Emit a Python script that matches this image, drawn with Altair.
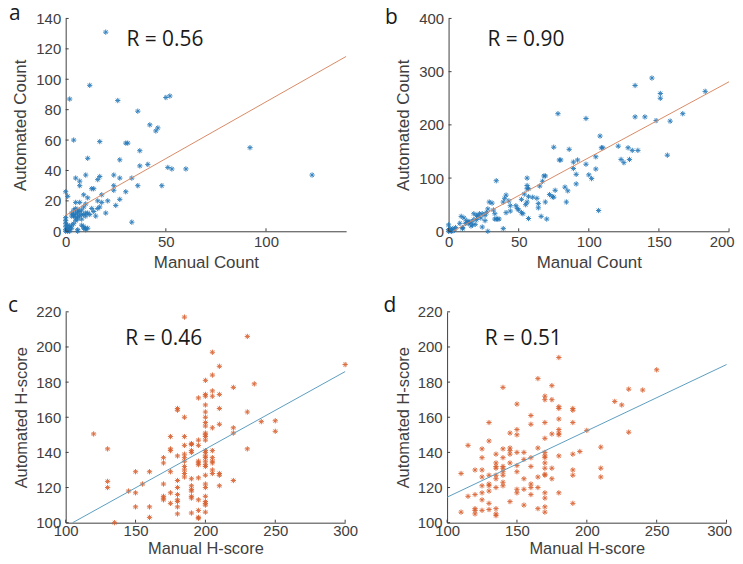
import altair as alt
import pandas as pd

# Panel a
ax = [20,12,2,26,50,52,36,42,46,45,4,17,30,31,37,11,27,92,123,41,37,51,53,60,48,36,33,27,24,10,17,16,5,7,7,24,24,14,13,30,0,1,9,11,18,27,21,16,18,5,7,10,25,16,17,20,13,14,15,33,10,11,9,8,7,6,5,4,3,3,4,5,6,7,8,6,5,4,8,6,5,9,10,12,0,0,0,0,1,1,2,2,3,3,4,1,0,0,2,6,8,9,9,10,11,10,6,1]
ay = [131,96,87,86,88,89,79,70,68,66,60,59,58,58,53,48,47,55,37,44,43,42,41,41,30,30,35,35,37,37,36,34,35,33,30,30,27,28,28,26,26,23,24,22,24,21,20,20,19,19,19,18,17,15,16,12,15,13,10,6,12,12,16,14,13,14,15,14,12,10,10,9,10,10,8,8,7,11,11,12,12,11,10,11,9,7,5,3,2,1,3,1,4,2,5,4,1,0,0,0,4,3,2,2,2,1,1,0]
a_line_x = [0,140]
a_line_y = [10.5,115]

# Panel b
bx = [145,133,151,151,183,78,98,133,140,167,148,158,108,156,75,86,109,110,121,128,131,135,129,123,125,79,80,89,92,98,105,89,91,105,100,102,91,107,34,56,68,69,67,65,56,57,56,83,85,84,76,72,74,75,69,66,70,57,60,57,63,64,64,54,52,55,56,41,40,39,43,44,41,44,48,49,50,52,53,29,31,32,33,33,34,35,36,28,27,24,22,21,18,23,24,26,28,39,20,16,14,17,19,13,11,9,10,10,8,5,3,2,1,0,0,1,0,3,2,4,15,16,12,18,20,26,14]
by = [288,274,259,250,263,221,212,215,215,221,208,207,179,143,158,154,157,157,160,157,152,152,135,135,129,134,134,130,134,126,140,118,107,117,106,99,89,39,95,100,104,104,94,85,86,80,80,83,76,55,77,69,65,64,55,28,23,24,64,65,62,52,44,70,60,50,55,68,62,55,57,48,35,38,48,43,40,35,33,55,53,40,33,23,23,23,23,42,35,33,33,28,33,25,8,20,0,5,22,18,15,12,13,20,25,28,7,5,15,7,5,3,1,0,12,5,3,1,0,2,17,10,15,22,30,30,17]
b_line_x = [3,200]
b_line_y = [0,281]

# Panel c
cx = [185,230,205,210,300,205,200,220,235,205,200,200,210,205,195,200,180,180,210,230,200,185,200,250,240,200,200,210,220,205,250,220,120,200,200,200,175,185,200,195,130,230,175,175,185,195,190,190,190,190,200,200,205,200,200,180,185,185,170,170,205,205,205,195,195,195,200,200,200,185,185,185,185,185,175,150,160,205,205,210,210,200,195,190,180,220,130,170,155,200,200,210,130,180,190,190,190,145,175,150,180,200,170,170,170,190,190,180,180,175,195,200,200,200,150,160,180,195,200,190,180,160,195,195,135]
cy = [217,206,197,189,190,184,181,177,179,175,173,172,173,172,171,167,165,164,165,163,163,160,160,158,157.5,157,155,156,154,154,152,151,150.5,151,150,149,149,149,147,147,142,142,142,141,144,144,145,144.5,141,140,141,140,141,138,137,138,139,137,137,134,137,135,134,135,134,133,135,133,132,135,132,130,128,126,129,129,129,130,128,128,127,127,125.5,125,124,124,123.5,122,122,122,120,121,120,120,121,119,118,118,117,117,116,115,115,114,113,115,114,113,112,111,113,112,111,110,109,109,109,107,106,105.5,105,103,103,102.5,100]
c_line_x = [105,300]
c_line_y = [100,186]

# Panel d
dx = [180,250,165,140,175,230,240,170,170,175,220,225,150,180,180,190,190,180,160,130,170,190,160,150,180,180,200,145,150,175,180,230,170,130,115,125,140,145,145,165,210,145,150,155,170,170,170,135,190,180,195,125,140,160,155,170,145,135,135,135,140,140,150,160,120,125,140,150,170,175,210,190,110,130,135,140,170,170,190,210,125,135,155,165,175,130,130,125,135,140,140,145,150,155,160,160,165,125,130,150,160,170,180,115,120,125,170,130,155,170,190,135,120,120,125,130,165,110,120,135,135,170]
dy = [194,187,182,177,178,176,175.5,172,170,170,169,167,167.5,166,165,165,164,159,161,157,157,157,156,153,153,151,152.5,151,150,150.5,150,151.5,148,146.5,144,142,142,142.5,141,142.5,143,139,140,140,140,138,137,139,139,138,140.5,137,137,137,136,134,134,134,132,131,132,131,132.5,132,130,130,129,129,131,131,131,130,128,127,127,127,127,127.5,127,126,126,125,125,126,125,122,121,121,120,123,121,112,119,119,122,120,120,117,118,117,116,117,117,115,116,113,114,111,110,109,111,108,108,107,107,107.5,108,106,105,105,104,106]
d_line_x = [100,300]
d_line_y = [114.5,190]

INK = "#404040"
AST = "M-1,0L1,0M0,-1L0,1M-.7,-.7L.7,.7M-.7,.7L.7,-.7"


def panel(xs, ys, lx, ly, color, lcolor, xdom, ydom, xticks, yticks, xt, yt,
          rtext, rx, ry, letter, lpx, lpy, w, h, tsize, lpad, tpad, shift_last):
    pts = pd.DataFrame({"x": xs, "y": ys})
    extra = {}
    if shift_last:
        extra["labelOffset"] = {"condition": {"test": f"datum.value == {xticks[-1]}", "value": -7.5}, "value": 0}
    X = alt.X("x:Q", scale=alt.Scale(domain=xdom, nice=False, zero=False),
              axis=alt.Axis(title=xt, values=xticks, ticks=False, grid=False, labelFontSize=15,
                            titleFontSize=tsize, titleFontWeight="normal", labelFont="Liberation Sans",
                            titleFont="Liberation Sans", labelColor=INK, titleColor=INK, domainColor=INK,
                            labelPadding=lpad, titlePadding=tpad, labelFlush=False, labelOverlap=False, **extra))
    Y = alt.Y("y:Q", scale=alt.Scale(domain=ydom, nice=False, zero=False),
              axis=alt.Axis(title=yt, values=yticks, ticks=False, grid=False, labelFontSize=15,
                            titleFontSize=tsize, titleFontWeight="normal", labelFont="Liberation Sans",
                            titleFont="Liberation Sans", labelColor=INK, titleColor=INK, domainColor=INK,
                            labelPadding=5, titlePadding=6, labelFlush=False, labelOverlap=False))
    scatter = alt.Chart(pts).mark_point(shape=AST, size=28, stroke=color, strokeWidth=1,
                                        filled=False, clip=False, opacity=0.9).encode(x=X, y=Y)
    line = alt.Chart(pd.DataFrame({"x": lx, "y": ly})).mark_line(color=lcolor, strokeWidth=1).encode(x=X, y=Y)
    xtick = alt.Chart(pd.DataFrame({"x": xticks})).mark_rule(color=INK, strokeWidth=1).encode(
        x=X, y=alt.value(h), y2=alt.value(h - 3))
    ytick = alt.Chart(pd.DataFrame({"y": yticks})).mark_rule(color=INK, strokeWidth=1).encode(
        y=Y, x=alt.value(0), x2=alt.value(3))
    r = alt.Chart(pd.DataFrame({"x": [rx], "y": [ry], "t": [rtext]})).mark_text(
        align="left", baseline="alphabetic", font="Open Sans", fontSize=21, color="#1a1a1a").encode(
        x=X, y=Y, text="t:N")
    let = alt.Chart(pd.DataFrame({"t": [letter]})).mark_text(
        align="left", baseline="alphabetic", font="Open Sans", fontSize=21, color="#1a1a1a").encode(
        x=alt.value(lpx), y=alt.value(lpy), text="t:N")
    return alt.layer(scatter, line, xtick, ytick, r, let).properties(width=w, height=h)


pa = panel(ax, ay, a_line_x, a_line_y, "#2277B8", "#D98A66", [0, 140], [0, 140], [0, 50, 100],
           [0, 20, 40, 60, 80, 100, 120, 140], "Manual Count", "Automated Count", "R = 0.56", 30.3, 121.6,
           "a", -57, 2, 282, 214, 17, 3, 5, False)
pb = panel(bx, by, b_line_x, b_line_y, "#2277B8", "#D98A66", [0, 200], [0, 400], [0, 50, 100, 150, 200],
           [0, 100, 200, 300, 400], "Manual Count", "Automated Count", "R = 0.90", 27.7, 348,
           "b", -64, 6, 282, 214, 17, 3, 5, True)
pc = panel(cx, cy, c_line_x, c_line_y, "#D9602E", "#5C9DC0", [100, 300], [100, 220], [100, 150, 200, 250, 300],
           [100, 120, 140, 160, 180, 200, 220], "Manual H-score", "Automated H-score", "R = 0.46", 142.6, 201,
           "c", -58, 0, 281, 212, 16.5, 1, 2, False)
pd_ = panel(dx, dy, d_line_x, d_line_y, "#D9602E", "#5C9DC0", [100, 300], [100, 220], [100, 150, 200, 250, 300],
            [100, 120, 140, 160, 180, 200, 220], "Manual H-score", "Automated H-score", "R = 0.51", 127, 201,
            "d", -64, 0, 281, 212, 16.5, 1, 2, True)

chart = alt.vconcat(
    alt.hconcat(pa, pb, spacing=37),
    alt.hconcat(pc, pd_, spacing=25.5),
    spacing=25,
).properties(padding={"top": -6, "left": 0, "right": 0, "bottom": -3}, background="white").configure_view(stroke=None)

chart.save("out.html", embed_options={"renderer": "svg", "actions": False})
